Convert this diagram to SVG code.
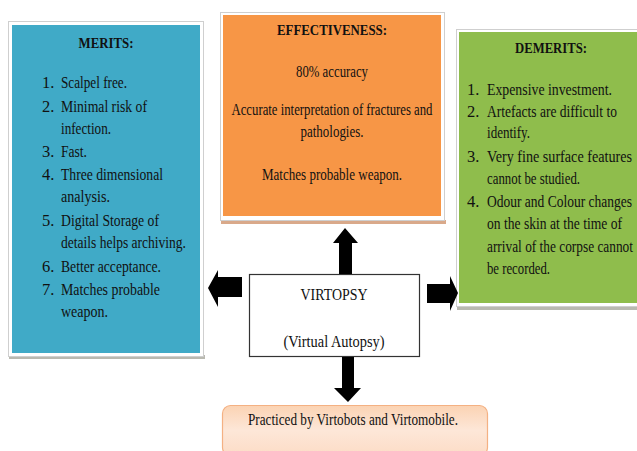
<svg xmlns="http://www.w3.org/2000/svg" width="637" height="451" viewBox="0 0 637 451">
<defs>
<style>
text{font-family:"Liberation Serif","Times New Roman",serif;fill:#111;}
.t{font-size:16.5px;}
.h{font-size:15.5px;font-weight:bold;}
.frame{fill:#fff;stroke:#cfcfcf;stroke-width:1;}
.shadow{fill:#b9b9b0;}
.arrow{fill:#000;}
</style>
<linearGradient id="peach" x1="0" y1="0" x2="0" y2="1">
<stop offset="0" stop-color="#fbd3b3"/>
<stop offset="0.5" stop-color="#fde7d8"/>
<stop offset="1" stop-color="#fcdcc6"/>
</linearGradient>
</defs>
<rect width="637" height="451" fill="#fff"/>

<g id="merits">
<rect class="shadow" x="9" y="355" width="196" height="4"/>
<rect class="frame" x="8.5" y="21.5" width="195" height="335"/>
<rect x="12" y="25" width="188" height="328" fill="#40aac7"/>
<text class="h" x="106" y="48" text-anchor="middle" textLength="55" lengthAdjust="spacingAndGlyphs">MERITS:</text>
<g class="t">
<text x="42" y="88">1.</text><text x="61" y="88" textLength="66" lengthAdjust="spacingAndGlyphs">Scalpel free.</text>
<text x="42" y="112">2.</text><text x="61" y="112" textLength="86" lengthAdjust="spacingAndGlyphs">Minimal risk of</text>
<text x="61" y="134" textLength="50" lengthAdjust="spacingAndGlyphs">infection.</text>
<text x="42" y="157">3.</text><text x="61" y="157" textLength="26" lengthAdjust="spacingAndGlyphs">Fast.</text>
<text x="42" y="180">4.</text><text x="61" y="180" textLength="102" lengthAdjust="spacingAndGlyphs">Three dimensional</text>
<text x="61" y="202" textLength="49" lengthAdjust="spacingAndGlyphs">analysis.</text>
<text x="42" y="226">5.</text><text x="61" y="226" textLength="98" lengthAdjust="spacingAndGlyphs">Digital Storage of</text>
<text x="61" y="248" textLength="125" lengthAdjust="spacingAndGlyphs">details helps archiving.</text>
<text x="42" y="272">6.</text><text x="61" y="272" textLength="100" lengthAdjust="spacingAndGlyphs">Better acceptance.</text>
<text x="42" y="295">7.</text><text x="61" y="295" textLength="99" lengthAdjust="spacingAndGlyphs">Matches probable</text>
<text x="61" y="317" textLength="47" lengthAdjust="spacingAndGlyphs">weapon.</text>
</g>
</g>

<g id="effectiveness">
<rect x="221" y="220" width="225" height="4" fill="#d9a98a"/>
<rect class="frame" x="220.5" y="12.5" width="224" height="208"/>
<rect x="223" y="15" width="218" height="201" fill="#f79646"/>
<text class="h" x="332" y="35" text-anchor="middle" textLength="110" lengthAdjust="spacingAndGlyphs">EFFECTIVENESS:</text>
<g class="t" text-anchor="middle">
<text x="332" y="77" textLength="72" lengthAdjust="spacingAndGlyphs">80% accuracy</text>
<text x="332" y="115" textLength="201" lengthAdjust="spacingAndGlyphs">Accurate interpretation of fractures and</text>
<text x="332" y="137" textLength="63" lengthAdjust="spacingAndGlyphs">pathologies.</text>
<text x="332" y="180" textLength="140" lengthAdjust="spacingAndGlyphs">Matches probable weapon.</text>
</g>
</g>

<g id="demerits">
<rect class="shadow" x="457" y="306" width="180" height="4"/>
<rect class="frame" x="456.5" y="29.5" width="182" height="277"/>
<rect x="459" y="32" width="178" height="271" fill="#8fbd4c"/>
<text class="h" x="551" y="53" text-anchor="middle" textLength="72" lengthAdjust="spacingAndGlyphs">DEMERITS:</text>
<g class="t">
<text x="467" y="95">1.</text><text x="487" y="95" textLength="125" lengthAdjust="spacingAndGlyphs">Expensive investment.</text>
<text x="467" y="117">2.</text><text x="487" y="117" textLength="130" lengthAdjust="spacingAndGlyphs">Artefacts are difficult to</text>
<text x="487" y="138" textLength="43" lengthAdjust="spacingAndGlyphs">identify.</text>
<text x="467" y="162">3.</text><text x="487" y="162" textLength="145" lengthAdjust="spacingAndGlyphs">Very fine surface features</text>
<text x="487" y="184" textLength="93" lengthAdjust="spacingAndGlyphs">cannot be studied.</text>
<text x="467" y="207">4.</text><text x="487" y="207" textLength="145" lengthAdjust="spacingAndGlyphs">Odour and Colour changes</text>
<text x="487" y="229" textLength="135" lengthAdjust="spacingAndGlyphs">on the skin at the time of</text>
<text x="487" y="252" textLength="146" lengthAdjust="spacingAndGlyphs">arrival of the corpse cannot</text>
<text x="487" y="274" textLength="63" lengthAdjust="spacingAndGlyphs">be recorded.</text>
</g>
</g>

<g id="virtopsy">
<rect x="249.5" y="274.5" width="170" height="82" fill="#fff" stroke="#333" stroke-width="1.2"/>
<text class="t" x="334" y="300" text-anchor="middle" textLength="67" lengthAdjust="spacingAndGlyphs">VIRTOPSY</text>
<text class="t" x="334" y="347" text-anchor="middle" textLength="101" lengthAdjust="spacingAndGlyphs">(Virtual Autopsy)</text>
</g>

<g id="practiced">
<rect x="222.5" y="405.5" width="265" height="50" rx="8" fill="url(#peach)" stroke="#f4b183" stroke-width="1.2"/>
<text class="t" x="353" y="425" text-anchor="middle" textLength="210" lengthAdjust="spacingAndGlyphs">Practiced by Virtobots and Virtomobile.</text>
</g>

<g id="connectors">
<polygon class="arrow" points="345,228 358,243 352,243 352,274 339,274 339,243 333,243"/>
<polygon class="arrow" points="208,288 218,270 218,277 242,277 242,297 218,297 218,307"/>
<polygon class="arrow" points="458,293 450,276 450,284 427,284 427,303 450,303 450,311"/>
<polygon class="arrow" points="348,402 361,388 354,388 354,357 342,357 342,388 334,388"/>
</g>
</svg>
